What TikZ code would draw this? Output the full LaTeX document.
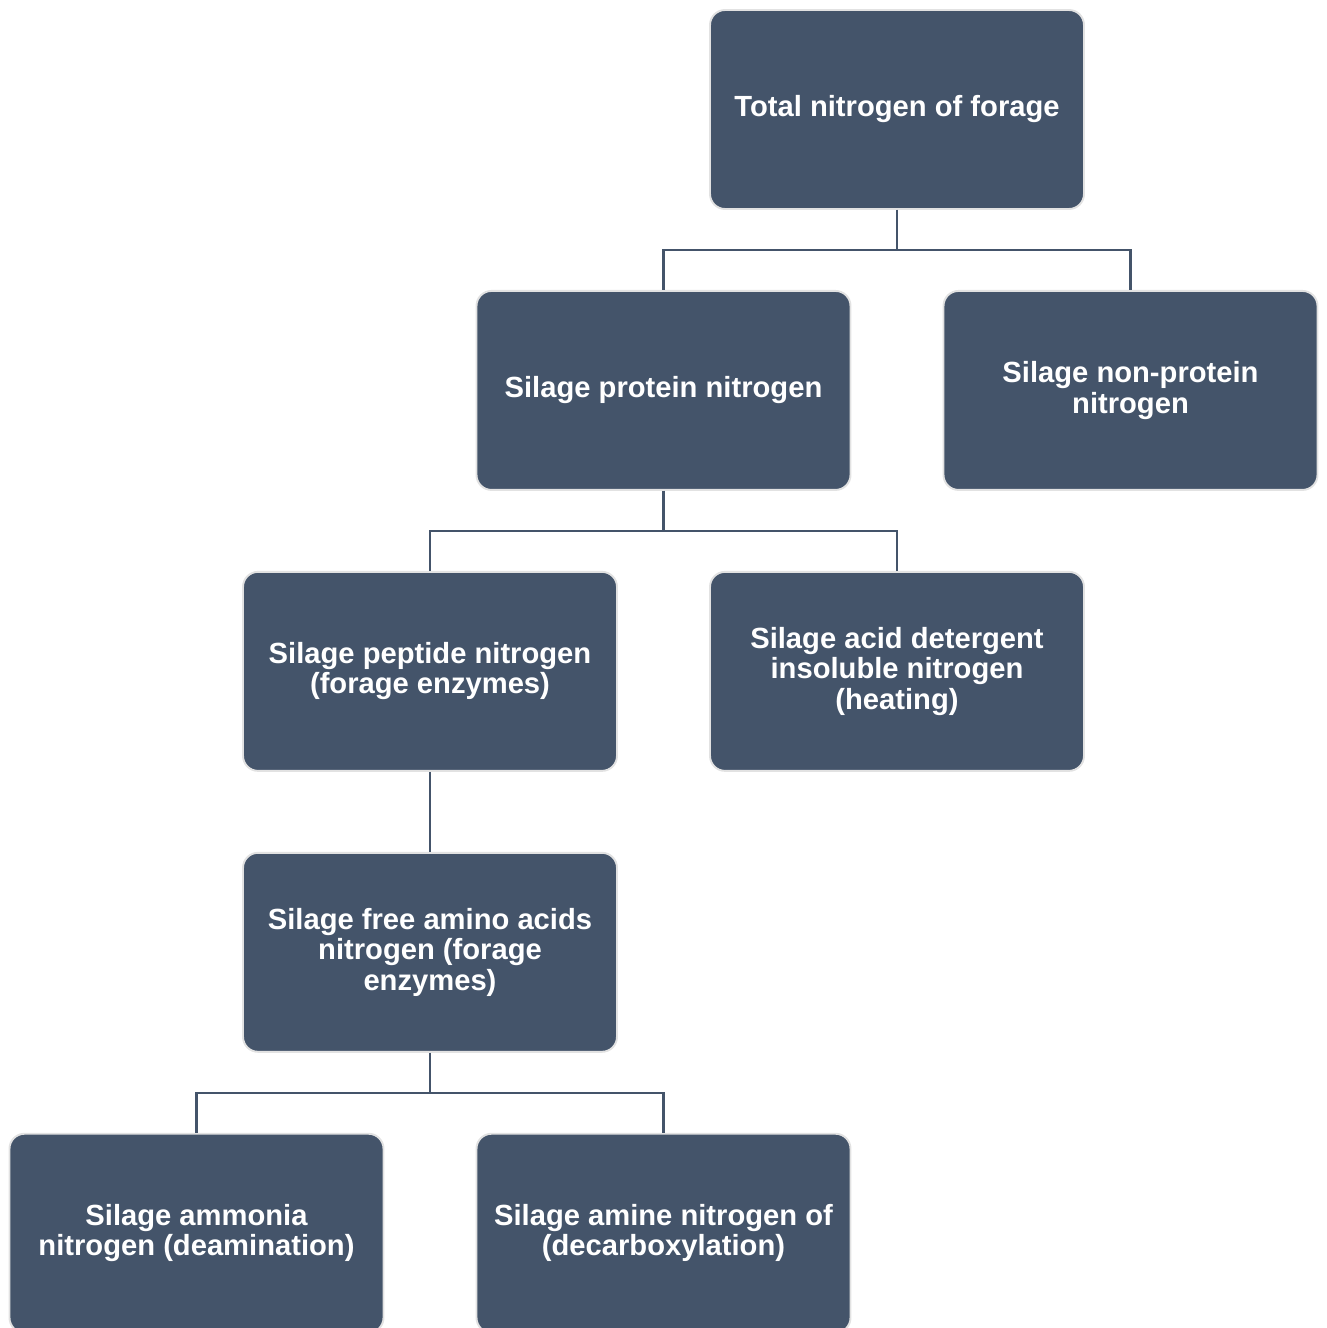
\documentclass[tikz,border=0pt]{standalone}
\usepackage{fontspec}
\setmainfont{Liberation Sans}
\usepackage{xcolor}
\usetikzlibrary{positioning}
\definecolor{slate}{HTML}{44546A}
\definecolor{rimgray}{HTML}{E2E2E2}

\begin{document}
\begin{tikzpicture}[node distance=1.60cm, every node/.style={font=\fontsize{16.6}{17.2}\selectfont\bfseries}, nbox/.style={draw=rimgray,line width=1.1pt,fill=slate,text=white,rounded corners=0.3cm,minimum width=7.48cm,minimum height=3.98cm,align=center}, link/.style={draw=slate,line width=1.3pt}]
\useasboundingbox (0,0) rectangle (26.52,-26.56);
\node[nbox] (total) at (17.94,-2.19) {Total nitrogen of forage};
\node[nbox,below=of total,xshift=-4.67cm] (prot) {Silage protein nitrogen};
\node[nbox,below=of total,xshift=4.67cm] (npn) {Silage non-protein\\nitrogen};
\node[nbox,below=of prot,xshift=-4.67cm] (pept) {Silage peptide nitrogen\\(forage enzymes)};
\node[nbox,below=of prot,xshift=4.67cm] (adin) {Silage acid detergent\\insoluble nitrogen\\(heating)};
\node[nbox,below=of pept] (faa) {Silage free amino acids\\nitrogen (forage\\enzymes)};
\node[nbox,below=of faa,xshift=-4.67cm] (ammo) {Silage ammonia\\nitrogen (deamination)};
\node[nbox,below=of faa,xshift=4.67cm] (amine) {Silage amine nitrogen of\\(decarboxylation)};
\foreach \x/\y in {total/prot,total/npn,prot/pept,prot/adin,faa/ammo,faa/amine}{\draw[link] (\x.south) -- ++(0,-0.80) -| (\y.north);}
\draw[link] (pept) -- (faa);
\end{tikzpicture}
\end{document}
